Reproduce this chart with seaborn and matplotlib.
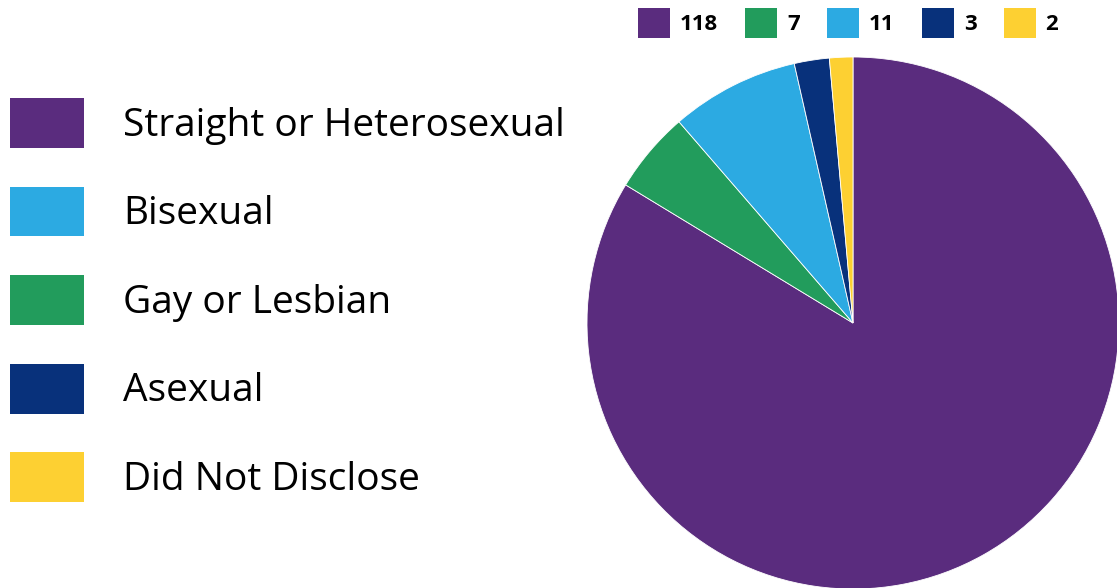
import numpy as np
import pandas as pd
import matplotlib.pyplot as plt
import seaborn as sb

# counts in the order the slices go round (clockwise from the top)
categories = ['Straight or Heterosexual', 'Gay or Lesbian', 'Bisexual', 'Asexual', 'Did Not Disclose']
counts = [118, 7, 11, 3, 2]
slice_colors = ['#5a2c7e', '#229c5c', '#2caae2', '#08317b', '#fdd032']

# order used by the big legend on the left
legend_order = ['Straight or Heterosexual', 'Bisexual', 'Gay or Lesbian', 'Asexual', 'Did Not Disclose']

sb.set_theme(style='white')
plt.rcParams['font.family'] = ['Open Sans', 'DejaVu Sans']

frame = pd.DataFrame({'Orientation': categories, 'Count': counts, 'Color': slice_colors})

W, H = 1117, 588
fig = plt.figure(figsize=(W / 100, H / 100), dpi=100)

# pie axes: centre (853, 323) px, radius 266 px
cx, cy, r = 853, 323, 266
ax = fig.add_axes([(cx - r) / W, (H - cy - r) / H, 2 * r / W, 2 * r / H])
wedges, _ = ax.pie(frame['Count'], colors=frame['Color'], startangle=90, counterclock=False,
                   radius=1, wedgeprops={'edgecolor': 'white', 'linewidth': 0.6})
ax.set_xlim(-1, 1)
ax.set_ylim(-1, 1)
ax.set_aspect('equal')
ax.axis('off')

# top legend with the counts
top = fig.legend(wedges, [str(c) for c in frame['Count']], ncol=5, loc='upper left',
                 bbox_to_anchor=(638 / W, 1 - 8 / H), frameon=False,
                 prop={'weight': 'bold', 'size': 16}, labelcolor='black',
                 handlelength=1.44, handleheight=1.7, handletextpad=0.45,
                 columnspacing=1.22, borderpad=0, borderaxespad=0)

# left legend with the names
lut = dict(zip(frame['Orientation'], wedges))
left = fig.legend([lut[k] for k in legend_order], legend_order, loc='upper left',
                  bbox_to_anchor=(10 / W, 1 - 98 / H), frameon=False,
                  prop={'size': 28}, labelcolor='black',
                  handlelength=1.9, handleheight=1.59,
                  handletextpad=1.0, labelspacing=1.0, borderpad=0, borderaxespad=0)
for h in left.legend_handles:
    h.set_linewidth(0)
for h in top.legend_handles:
    h.set_linewidth(0)

plt.savefig('out.png', dpi=100)
